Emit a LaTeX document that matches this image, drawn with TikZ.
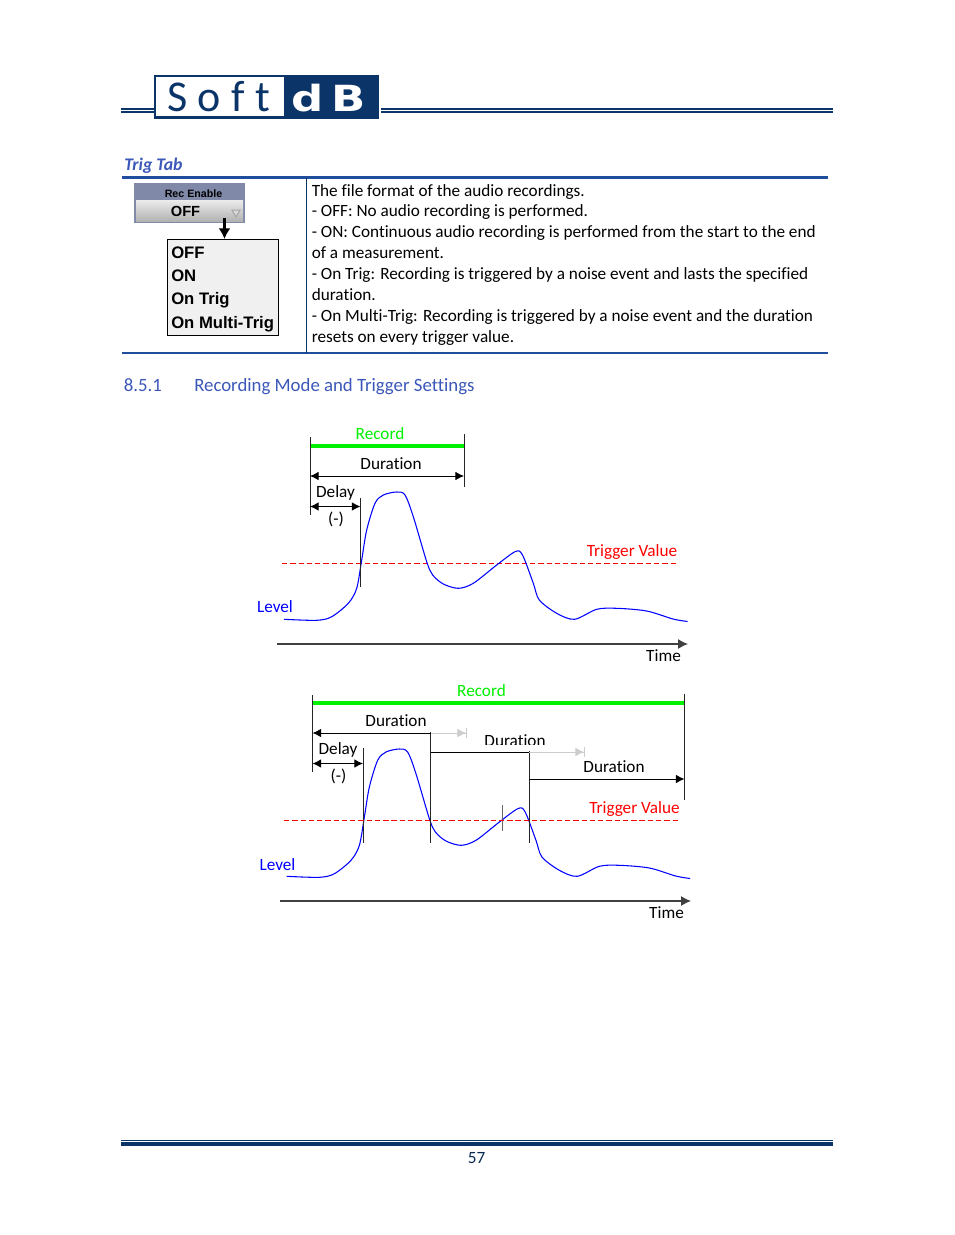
\documentclass[tikz,border=0pt]{standalone}
\usepackage{fontspec}
\setmainfont{Carlito}[Ligatures=NoCommon]
\newfontfamily\widgetfont{Liberation Sans}
\newfontfamily\logofont[LetterSpace=24,Ligatures=NoCommon]{Carlito}
\newfontfamily\logoboldfont{DejaVu Sans}
\usetikzlibrary{arrows.meta, positioning}
\definecolor{navy}{HTML}{0B3468}
\definecolor{rulecol}{HTML}{1F4E9E}
\definecolor{headcol}{HTML}{3B57B8}
\definecolor{widgetcol}{HTML}{8089A8}
\definecolor{recgreen}{HTML}{00F000}
\definecolor{trigred}{HTML}{FF0000}

\begin{document}
\begin{tikzpicture}[
  x=0.75pt, y=-0.75pt,
  lbl/.style={font=\fontsize{12.9}{15}\selectfont, inner sep=0pt},
  menuitem/.style={font=\widgetfont\bfseries\fontsize{12.5}{14}\selectfont, anchor=base west, inner sep=0pt},
  tick/.style={draw, line width=0.7pt, black!85},
  dim/.style={draw, line width=0.7pt, {Latex[length=6.5pt,width=6.5pt]}-{Latex[length=6.5pt,width=6.5pt]}},
  dimto/.style={draw, line width=0.7pt, -{Latex[length=6.5pt,width=6.5pt]}},
  ghost/.style={draw, line width=0.7pt, black!20, -{Latex[length=6.5pt,width=6.5pt]Bar[sep=0pt,width=8pt]}},
  recbar/.style={draw, recgreen, line width=3.5pt},
  trigline/.style={draw=trigred, line width=0.8pt, dash pattern=on 4pt off 2.2pt},
  axisline/.style={draw, line width=0.9pt, black!75, -{Latex[length=7.5pt,width=7.5pt]}},
  levelline/.style={draw, blue, line width=0.8pt},
  levelcurve/.pic={
    \draw[levelline] plot[smooth, tension=0.5] coordinates {
      (284,619.3) (316.7,620.3) (331.7,616.7) (348.3,603.3) (356.7,588.3) (361.7,560)
      (366.7,530) (375,503.3) (383.3,495) (396.7,492) (405,495) (413.3,516.7)
      (426.7,561.7) (432.7,575) (443.3,584) (458.3,588.3) (473.3,583.3) (496.7,565)
      (515.5,551.5) (522.5,555) (533.3,583.3) (539.3,600) (556.7,613.3) (574.5,619.3)
      (596.7,609.3) (616.7,608.3) (646.7,611) (673,619) (687.5,621.5)};
  }
]
\useasboundingbox (0,0) rectangle (954,1235);

% Header
\coordinate (hl1) at (121,109);
\coordinate (hl2) at (154,109);
\coordinate (hl3) at (121,111.7);
\coordinate (hl4) at (154,111.7);
\coordinate (hr1) at (381,109);
\coordinate (hr2) at (833,109);
\coordinate (hr3) at (381,111.7);
\coordinate (hr4) at (833,111.7);
\draw[navy, line width=0.9pt] (hl1) -- (hl2);
\draw[navy, line width=1.6pt] (hl3) -- (hl4);
\draw[navy, line width=0.9pt] (hr1) -- (hr2);
\draw[navy, line width=1.6pt] (hr3) -- (hr4);

\fill[navy] (154.3,75.3) rectangle (378.7,118.7);
\fill[white] (156.3,77.3) rectangle (284,116);
\node[font=\logofont\fontsize{33}{33}\selectfont, text=navy, anchor=base west, inner sep=0pt] (logosoft) at (167,111.5) {Soft};
\node[font=\logoboldfont\bfseries\fontsize{27}{27}\selectfont, text=white, anchor=base west, inner sep=0pt, xscale=1.25] (logodb) at (291,111.5) {d\,B};

% Table
\node[font=\bfseries\itshape\fontsize{13.3}{15}\selectfont, text=headcol, anchor=west, inner sep=0pt] (trigtab) at (124,165.5) {Trig Tab};
\coordinate (ttl) at (122,177.5);
\coordinate (ttr) at (828,177.5);
\coordinate (tbl) at (122,353);
\coordinate (tbr) at (828,353);
\coordinate (tvt) at (306.5,177.5);
\coordinate (tvb) at (306.5,353);
\draw[rulecol, line width=1.6pt] (ttl) -- (ttr);
\draw[rulecol, line width=1.6pt] (tbl) -- (tbr);
\draw[navy, line width=0.6pt] (tvt) -- (tvb);

\node[lbl, anchor=north west, align=left, font=\fontsize{12.9}{15.65}\selectfont] (desc) at (311.5,183.8) {The file format of the audio recordings.\\
- OFF: No audio recording is performed.\\
- ON: Continuous audio recording is performed from the start to the end\\
of a measurement.\\
- On Trig: Recording is triggered by a noise event and lasts the specified\\
duration.\\
- On Multi-Trig: Recording is triggered by a noise event and the duration\\
resets on every trigger value.};

% Rec Enable widget
\fill[widgetcol] (134,183) rectangle (245,223);
\shade[top color=black!8, bottom color=black!30] (136,200.5) rectangle (243,221);
\fill[black!35] (231,209.5) -- (241,209.5) -- (236,218) -- cycle;
\fill[white!85!black] (233,210.5) -- (239,210.5) -- (236,215.5) -- cycle;
\node[font=\widgetfont\bfseries\fontsize{8}{9}\selectfont, inner sep=0pt] (recenable) at (193.5,193.5) {Rec Enable};
\node[font=\widgetfont\bfseries\fontsize{11}{12}\selectfont, inner sep=0pt] (recoff) at (185.5,211) {OFF};
\node[draw, line width=0.7pt, fill=black!6, minimum width=83pt, minimum height=72pt, inner sep=0pt] (menu) at (223,287.5) {};
\coordinate (wbot) at (224.5,218);
\draw[line width=1.8pt, -{Latex[length=8pt,width=9pt]}] (wbot) -- (wbot |- menu.north);
\node[menuitem] (itoff) at (171,258) {OFF};
\node[menuitem] (iton) at (171,281.5) {ON};
\node[menuitem] (ittrig) at (171,304.5) {On Trig};
\node[menuitem] (itmulti) at (171,328) {On Multi-Trig};

% Section title
\node[font=\fontsize{14.1}{16}\selectfont, text=headcol, anchor=west, inner sep=0pt] (secnum) at (123.5,385.5) {8.5.1};
\node[font=\fontsize{14.1}{16}\selectfont, text=headcol, anchor=west, inner sep=0pt] (sectitle) at (194,386.3) {Recording Mode and Trigger Settings};

% Upper chart
\coordinate (atrigl) at (282,563.5);
\coordinate (atrigr) at (676,563.5);
\draw[trigline] (atrigl) -- (atrigr);
\pic (curvea) at (0,0) {levelcurve};
\coordinate (a1t) at (310,437);
\coordinate (a1b) at (310,515);
\coordinate (a2t) at (464,434);
\coordinate (a2b) at (464,487);
\coordinate (a3t) at (360.5,498);
\coordinate (a3b) at (360.5,586.5);
\coordinate (abarl) at (310,446);
\coordinate (abarr) at (464,446);
\coordinate (adl) at (310,476);
\coordinate (adr) at (464,476);
\coordinate (ayl) at (310,506.5);
\coordinate (ayr) at (360.5,506.5);
\coordinate (axl) at (277,644);
\coordinate (axr) at (688,644);
\draw[recbar] (abarl) -- (abarr);
\draw[tick] (a1t) -- (a1b);
\draw[tick] (a2t) -- (a2b);
\draw[tick] (a3t) -- (a3b);
\draw[dim] (adl) -- (adr);
\draw[dim] (ayl) -- (ayr);
\draw[axisline] (axl) -- (axr);
\node[lbl, text=recgreen] (arecord) at (380,434) {Record};
\node[lbl] (aduration) at (391,464) {Duration};
\node[lbl] (adelay) at (335.5,492.5) {Delay};
\node[lbl] (aminus) at (336,519.5) {(-)};
\node[lbl, text=trigred] (atrigger) at (632,552) {Trigger Value};
\node[lbl, text=blue] (alevel) at (275,607) {Level};
\node[lbl] (atime) at (663.5,656) {Time};

% Lower chart
\pic (curveb) at (2.67,257) {levelcurve};
\coordinate (b1t) at (312.5,695);
\coordinate (b1b) at (312.5,772);
\coordinate (b2t) at (684.5,694);
\coordinate (b2b) at (684.5,800);
\coordinate (b3t) at (363,748);
\coordinate (b3b) at (363,843);
\coordinate (b4t) at (430.5,732);
\coordinate (b4b) at (430.5,843);
\coordinate (b5t) at (529,751);
\coordinate (b5b) at (529,843);
\coordinate (b6t) at (502,805);
\coordinate (b6b) at (502,831);
\coordinate (bbarl) at (312.5,703);
\coordinate (bbarr) at (684.5,703);
\coordinate (bd1) at (312.5,733);
\coordinate (bd1m) at (430.5,733);
\coordinate (bd1g) at (467,733);
\coordinate (bd2) at (430.5,752);
\coordinate (bd2m) at (529,752);
\coordinate (bd2g) at (585,752);
\coordinate (bd3) at (529,779);
\coordinate (bd3r) at (684.5,779);
\coordinate (byl) at (312.5,763.5);
\coordinate (byr) at (363,763.5);
\coordinate (btrigl) at (284,820.5);
\coordinate (btrigr) at (678,820.5);
\coordinate (bxl) at (280,901);
\coordinate (bxr) at (691,901);
\draw[recbar] (bbarl) -- (bbarr);
\draw[tick] (b1t) -- (b1b);
\draw[tick] (b2t) -- (b2b);
\draw[tick] (b3t) -- (b3b);
\draw[tick] (b4t) -- (b4b);
\draw[tick] (b5t) -- (b5b);
\draw[tick, black!60] (b6t) -- (b6b);
\draw[dimto] (bd1m) -- (bd1);
\draw[ghost] (bd1m) -- (bd1g);
\node[lbl] (bdurationb) at (515,740.5) {Duration};
\fill[white] (483,745.3) rectangle (548,750);
\draw[line width=0.7pt] (bd2) -- (bd2m);
\draw[ghost] (bd2m) -- (bd2g);
\draw[dimto] (bd3) -- (bd3r);
\draw[dim] (byl) -- (byr);
\draw[trigline] (btrigl) -- (btrigr);
\draw[axisline] (bxl) -- (bxr);
\node[lbl, text=recgreen] (brecord) at (481.5,691) {Record};
\node[lbl] (bduration) at (396,721) {Duration};
\node[lbl] (bdurationc) at (614,767) {Duration};
\node[lbl] (bdelay) at (338,749.5) {Delay};
\node[lbl] (bminus) at (338.5,776.5) {(-)};
\node[lbl, text=trigred] (btrigger) at (634.5,809) {Trigger Value};
\node[lbl, text=blue] (blevel) at (277.5,865) {Level};
\node[lbl] (btime) at (666.5,913) {Time};

% Footer
\coordinate (fa) at (121,1140.7);
\coordinate (fb) at (833,1140.7);
\coordinate (fc) at (121,1144);
\coordinate (fd) at (833,1144);
\draw[navy, line width=0.8pt] (fa) -- (fb);
\draw[navy, line width=2.9pt] (fc) -- (fd);
\node[lbl, text=navy!80!black] (pagenum) at (476.5,1158) {57};

\end{tikzpicture}
\end{document}
